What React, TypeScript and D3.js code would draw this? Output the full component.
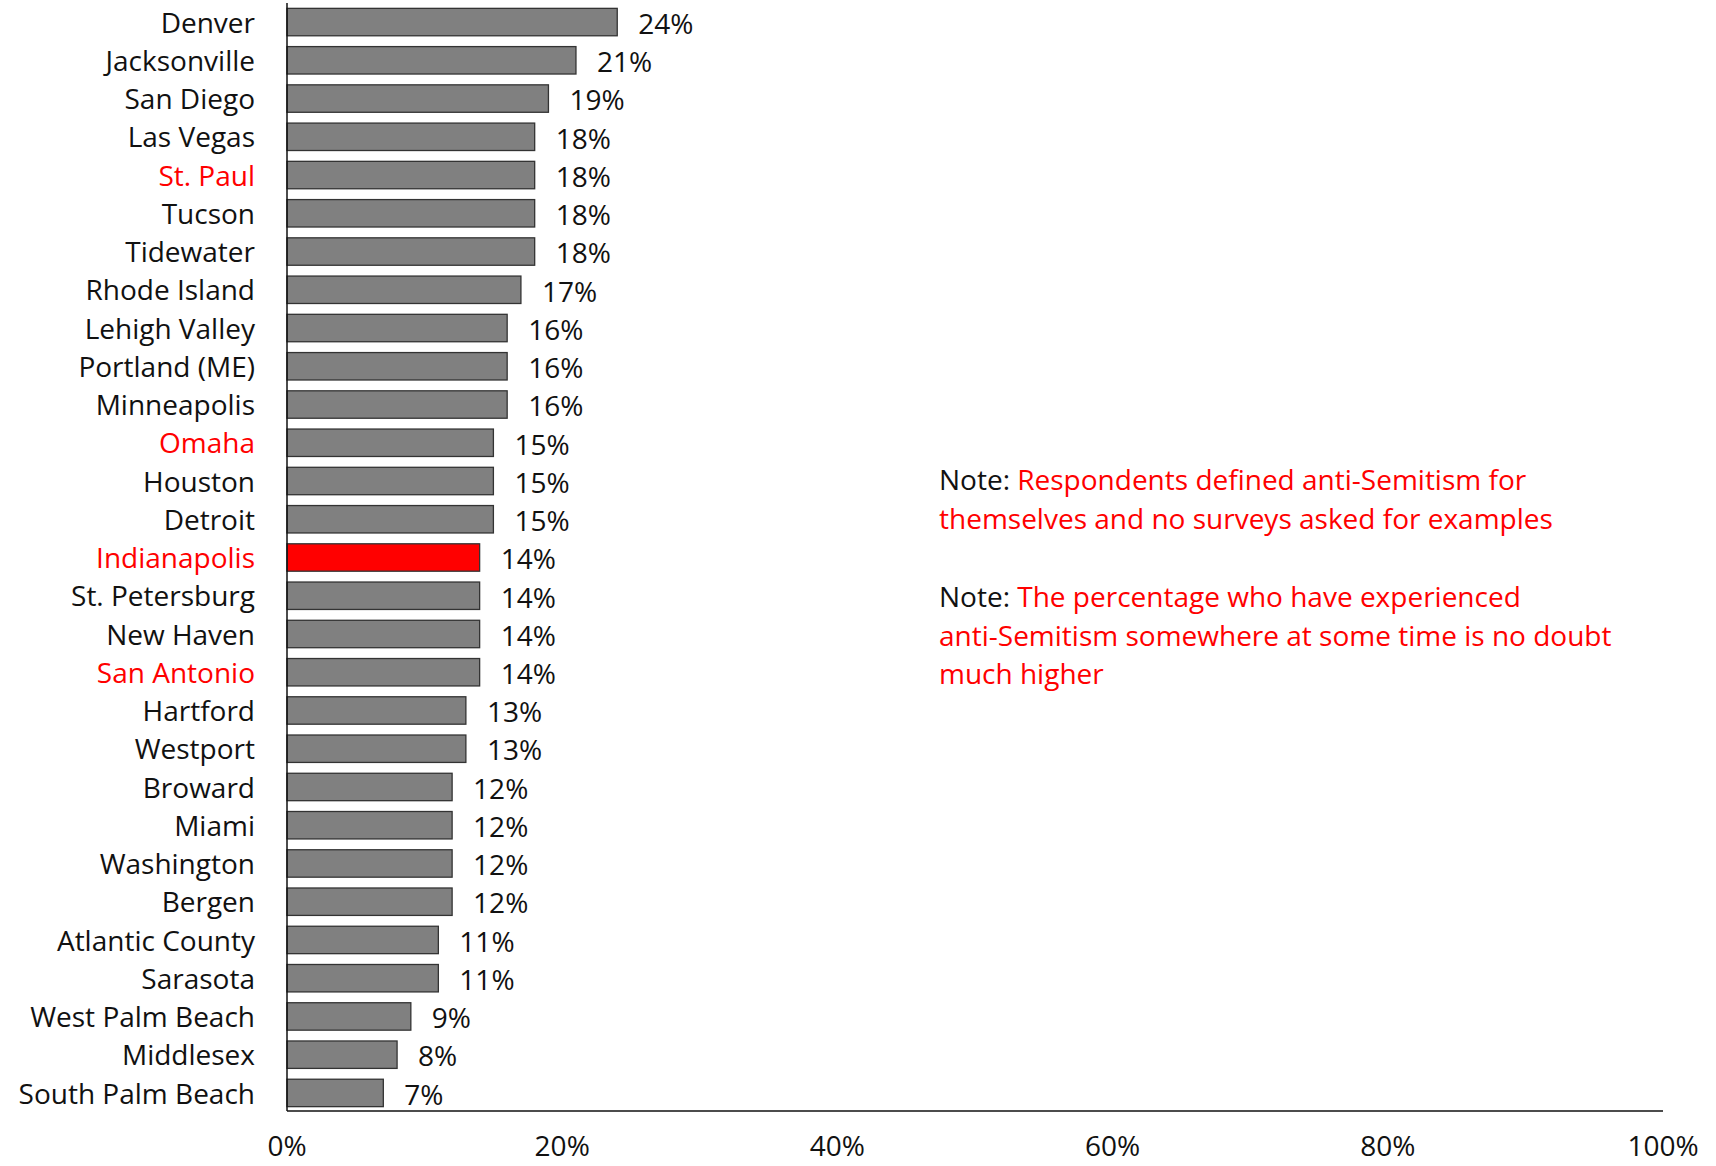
import React from "react";
import * as d3 from "d3";

const cities = [
  "Denver", "Jacksonville", "San Diego", "Las Vegas", "St. Paul", "Tucson", "Tidewater",
  "Rhode Island", "Lehigh Valley", "Portland (ME)", "Minneapolis", "Omaha", "Houston",
  "Detroit", "Indianapolis", "St. Petersburg", "New Haven", "San Antonio", "Hartford",
  "Westport", "Broward", "Miami", "Washington", "Bergen", "Atlantic County", "Sarasota",
  "West Palm Beach", "Middlesex", "South Palm Beach",
];

const values = [24, 21, 19, 18, 18, 18, 18, 17, 16, 16, 16, 15, 15, 15, 14, 14, 14, 14, 13, 13, 12, 12, 12, 12, 11, 11, 9, 8, 7];

const redLabels = ["St. Paul", "Omaha", "Indianapolis", "San Antonio"];
const redBars = ["Indianapolis"];

const xTicks = [0, 20, 40, 60, 80, 100];

const note1 = ["Respondents defined anti-Semitism for", "themselves and no surveys asked for examples"];
const note2 = ["The percentage who have experienced", "anti-Semitism somewhere at some time is no doubt", "much higher"];

const W = 1716;
const H = 1166;
const FONT = "'Open Sans', Lato, sans-serif";

export default function App() {
  const x = d3.scaleLinear().domain([0, 100]).range([287, 1663]);
  const y = d3.scaleBand<string>().domain(cities).range([3, 1112]).paddingInner(0.283).paddingOuter(0.14);
  const fs = 28;
  const RED = "#ff0000";

  return (
    <svg width={W} height={H} style={{ position: "absolute", left: 0, top: 0, background: "#fff" }} fontFamily={FONT}>
      {cities.map((c, i) => (
        <g key={c}>
          <rect
            x={x(0)}
            y={y(c)!}
            width={x(values[i]) - x(0)}
            height={y.bandwidth()}
            fill={redBars.includes(c) ? RED : "#808080"}
            stroke="#333"
            strokeWidth={1.3}
          />
          <text
            x={255}
            y={y(c)! + y.bandwidth() / 2}
            dy="0.38em"
            textAnchor="end"
            fontSize={fs}
            fill={redLabels.includes(c) ? RED : "#111"}
          >
            {c}
          </text>
          <text
            x={x(values[i]) + 21}
            y={y(c)! + y.bandwidth() / 2}
            dy="0.42em"
            fontSize={fs}
            fill="#111"
          >
            {values[i]}%
          </text>
        </g>
      ))}
      <line x1={x(0)} x2={x(0)} y1={3} y2={1111} stroke="#111" strokeWidth={1.5} />
      <line x1={x(0)} x2={x(100)} y1={1111} y2={1111} stroke="#111" strokeWidth={1.5} />
      {xTicks.map((t) => (
        <text key={t} x={x(t)} y={1156} textAnchor="middle" fontSize={fs} fill="#111">
          {t}%
        </text>
      ))}
      <text x={939} y={480} dy="0.35em" fontSize={fs}>
        <tspan fill="#111">Note: </tspan>
        <tspan fill={RED}>{note1[0]}</tspan>
      </text>
      <text x={939} y={519} dy="0.35em" fontSize={fs} fill={RED}>{note1[1]}</text>
      <text x={939} y={597} dy="0.35em" fontSize={fs}>
        <tspan fill="#111">Note: </tspan>
        <tspan fill={RED}>{note2[0]}</tspan>
      </text>
      {note2.slice(1).map((l, i) => (
        <text key={l} x={939} y={636 + i * 38.5} dy="0.35em" fontSize={fs} fill={RED}>{l}</text>
      ))}
    </svg>
  );
}
